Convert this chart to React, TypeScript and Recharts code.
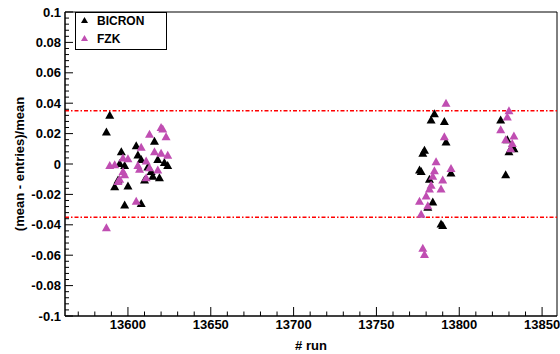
import React from "react";
import {
  ScatterChart,
  Scatter,
  XAxis,
  YAxis,
  ReferenceLine,
  ReferenceArea,
  Legend,
} from "recharts";

// run number / relative deviation
const bicronRun = [
  13589, 13587, 13616, 13605, 13596, 13606, 13595, 13598, 13608, 13612, 13618,
  13622, 13624, 13615, 13619, 13610, 13594, 13592, 13600, 13598, 13608, 13614,
  13785, 13783, 13791, 13792, 13779, 13778, 13776, 13777, 13795, 13782, 13784,
  13781, 13789, 13790,
  13825, 13829, 13833, 13830, 13828, 13832,
];
const bicronDev = [
  0.032, 0.021, 0.015, 0.012, 0.008, 0.006, 0.0004, -0.001, 0.003, -0.002, 0.003,
  0.001, -0.001, -0.008, -0.009, -0.0105, -0.0105, -0.015, -0.0145, -0.027, -0.026, -0.005,
  0.033, 0.029, 0.028, 0.0145, 0.009, 0.007, -0.004, -0.005, -0.006, -0.01, -0.025,
  -0.0285, -0.0395, -0.0405,
  0.029, 0.016, 0.01, 0.008, -0.007, 0.0115,
];

const fzkRun = [
  13620, 13621, 13613, 13623, 13608, 13616, 13620, 13624, 13600, 13597, 13589,
  13592, 13606, 13611, 13613, 13618, 13597, 13598, 13611, 13595, 13594, 13605,
  13587, 13607,
  13792, 13791, 13786, 13795, 13785, 13784, 13790, 13783, 13789, 13782, 13780,
  13776, 13781, 13777, 13778, 13779,
  13830, 13829, 13825, 13833, 13828, 13832, 13831,
];
const fzkDev = [
  0.024, 0.023, 0.0195, 0.018, 0.011, 0.008, 0.007, 0.0057, 0.0035, 0.004, -0.001,
  -0.0005, -0.001, 0.002, -0.0025, -0.004, -0.005, -0.007, -0.009, -0.01, -0.0115, -0.0245,
  -0.042, -0.0035,
  0.04, 0.018, 0.0015, -0.003, -0.0045, -0.008, -0.0105, -0.014, -0.0165, -0.0165, -0.021,
  -0.0245, -0.0275, -0.033, -0.0555, -0.0595,
  0.035, 0.031, 0.0225, 0.0185, 0.016, 0.0135, 0.01,
];

const limits = [0.035, -0.035];

const xMajor = [13600, 13650, 13700, 13750, 13800, 13850];
const xLabels = ["13600", "13650", "13700", "13750", "13800", "13850"];
const yMajor = [-0.1, -0.08, -0.06, -0.04, -0.02, 0, 0.02, 0.04, 0.06, 0.08, 0.1];
const yLabels = ["-0.1", "-0.08", "-0.06", "-0.04", "-0.02", "0", "0.02", "0.04", "0.06", "0.08", "0.1"];

const X_DOMAIN: [number, number] = [13562, 13859];
const Y_DOMAIN: [number, number] = [-0.1, 0.1];

const MAGENTA = "#c04eb2";
const FONT = "'Liberation Sans', Arial, sans-serif";

// minor ticks every 10 runs and every 0.004
const xTicks: number[] = [];
for (let v = 13570; v <= 13850; v += 10) xTicks.push(v);
const yTicks: number[] = [];
for (let i = 0; i <= 50; i++) yTicks.push(Math.round((-0.1 + i * 0.004) * 1000) / 1000);

const bicron = bicronRun.map((run, i) => ({ run, dev: bicronDev[i] }));
const fzk = fzkRun.map((run, i) => ({ run, dev: fzkDev[i] }));

function labelFor(v: number, major: number[], labels: string[]) {
  const i = major.findIndex((m) => Math.abs(m - v) < 1e-9);
  return i >= 0 ? labels[i] : null;
}

function XTick(props: any) {
  const { x, y, payload } = props;
  const label = labelFor(payload.value, xMajor, xLabels);
  const len = label ? 9 : 4.5;
  return (
    <g>
      <line x1={x} y1={y} x2={x} y2={y - len} stroke="#000" strokeWidth={1} />
      {label && (
        <text x={x} y={y + 13} textAnchor="middle" fontFamily={FONT} fontWeight="bold" fontSize={13} fill="#000">
          {label}
        </text>
      )}
    </g>
  );
}

function YTick(props: any) {
  const { x, y, payload } = props;
  const label = labelFor(payload.value, yMajor, yLabels);
  const len = label ? 8 : 4;
  return (
    <g>
      <line x1={x} y1={y} x2={x + len} y2={y} stroke="#000" strokeWidth={1} />
      {label && (
        <text x={x - 4} y={y + 4.5} textAnchor="end" fontFamily={FONT} fontWeight="bold" fontSize={13} fill="#000">
          {label}
        </text>
      )}
    </g>
  );
}

function Triangle(color: string) {
  return (props: any) => {
    const { cx, cy } = props;
    return (
      <polygon
        points={`${cx},${cy - 4.5} ${cx - 4.5},${cy + 3.5} ${cx + 4.5},${cy + 3.5}`}
        fill={color}
      />
    );
  };
}

function LegendBox() {
  return (
    <svg width={92} height={38} style={{ display: "block" }}>
      <rect x={0.5} y={0.5} width={91} height={37} fill="#fff" stroke="#000" strokeWidth={1} />
      <polygon points="9.5,5 6,11 13,11" fill="#000" />
      <text x={22} y={13} fontFamily={FONT} fontWeight="bold" fontSize={12} fill="#000">
        BICRON
      </text>
      <polygon points="9.5,23 6,29 13,29" fill={MAGENTA} />
      <text x={22} y={31} fontFamily={FONT} fontWeight="bold" fontSize={12} fill="#000">
        FZK
      </text>
    </svg>
  );
}

export default function App() {
  return (
    <div style={{ position: "absolute", left: 0, top: 0, width: 560, height: 354, background: "#fff" }}>
      <ScatterChart width={560} height={354} margin={{ top: 12, right: 3, bottom: 0, left: 0 }}>
        <XAxis
          type="number"
          dataKey="run"
          domain={X_DOMAIN}
          allowDataOverflow
          ticks={xTicks}
          interval={0}
          tickSize={0}
          tickMargin={0}
          tickLine={false}
          tick={XTick}
          height={38}
          axisLine={{ stroke: "#000" }}
          label={{
            content: () => (
              <text x={311} y={350} textAnchor="middle" fontFamily={FONT} fontWeight="bold" fontSize={13} fill="#000">
                # run
              </text>
            ),
          }}
        />
        <YAxis
          type="number"
          dataKey="dev"
          domain={Y_DOMAIN}
          allowDataOverflow
          ticks={yTicks}
          interval={0}
          tickSize={0}
          tickMargin={0}
          tickLine={false}
          tick={YTick}
          width={65}
          axisLine={{ stroke: "#000" }}
          label={{
            content: () => (
              <text
                x={24}
                y={164}
                transform="rotate(-90 24 164)"
                textAnchor="middle"
                fontFamily={FONT}
                fontWeight="bold"
                fontSize={13}
                fill="#000"
              >
                (mean - entries)/mean
              </text>
            ),
          }}
        />
        <ReferenceArea
          x1={X_DOMAIN[0]}
          x2={X_DOMAIN[1]}
          y1={Y_DOMAIN[0]}
          y2={Y_DOMAIN[1]}
          fill="none"
          stroke="#000"
          strokeWidth={1}
          ifOverflow="visible"
        />
        {limits.map((v) => (
          <ReferenceLine key={v} y={v} stroke="#ff0000" strokeWidth={1.5} strokeDasharray="4 2 1.5 2" />
        ))}
        <Scatter name="BICRON" data={bicron} shape={Triangle("#000")} isAnimationActive={false} />
        <Scatter name="FZK" data={fzk} shape={Triangle(MAGENTA)} isAnimationActive={false} />
        <Legend
          layout="horizontal"
          verticalAlign="middle"
          content={() => <LegendBox />}
          wrapperStyle={{ position: "absolute", left: 75, top: 12, width: 92, height: 38, bottom: "auto" }}
        />
      </ScatterChart>
    </div>
  );
}
